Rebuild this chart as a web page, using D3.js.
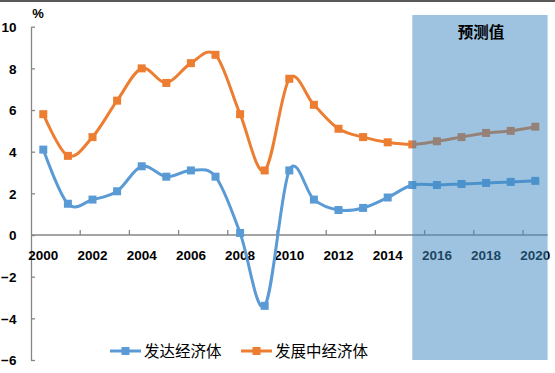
<!DOCTYPE html>
<meta charset="utf-8">
<style>
body { margin: 0; background: #fff; }
svg { display: block; }
.axis text { font-family: "Liberation Sans", Arial, sans-serif; font-weight: bold; font-size: 13.5px; fill: #000; }
.axis path, .axis line { stroke: #868686; stroke-width: 1.3; }
.legend text { font-family: "Noto Sans CJK SC", sans-serif; font-size: 15.5px; fill: #000; }
</style>
<body>
<svg width="555" height="373"></svg>
<script src="https://d3js.org/d3.v7.min.js"></script>
<script>
// values
var years = d3.range(2000, 2021);
var developed  = [4.1, 1.5, 1.7, 2.1, 3.3, 2.8, 3.1, 2.8, 0.1, -3.4, 3.1, 1.7, 1.2, 1.3, 1.8, 2.4, 2.4, 2.45, 2.5, 2.55, 2.6];
var developing = [5.8, 3.8, 4.7, 6.45, 8.0, 7.3, 8.25, 8.65, 5.8, 3.1, 7.5, 6.25, 5.1, 4.7, 4.45, 4.35, 4.5, 4.7, 4.9, 5.0, 5.2];
var yTicks = [-6, -4, -2, 0, 2, 4, 6, 8, 10];
var xLabels = years.filter(function(d) { return d % 2 === 0; });
var forecastStart = 2015;

var series = [
  {name: "发达经济体", values: developed, color: "#5B9BD5"},
  {name: "发展中经济体", values: developing, color: "#ED7D31"}
];

var svg = d3.select("svg");

// frame line at the top
svg.append("rect").attr("x", 0).attr("y", 0).attr("width", 555).attr("height", 2).attr("fill", "#595959");

var x = d3.scaleBand().domain(years).range([31, 547.6]).padding(0);
var y = d3.scaleLinear().domain([-6, 10]).range([360, 26.7]);
var cx = function(d) { return x(d) + x.bandwidth() / 2; };

// y axis
svg.append("g")
  .attr("class", "axis")
  .attr("transform", "translate(31,0)")
  .call(d3.axisLeft(y).tickValues(yTicks).tickSizeInner(-4).tickSizeOuter(0).tickPadding(14.5))
  .call(function(g) { g.selectAll("text").attr("dy", "0.36em"); });

// x axis at zero
var xg = svg.append("g")
  .attr("class", "axis")
  .attr("transform", "translate(0," + y(0) + ")");
xg.append("line").attr("x1", x.range()[0]).attr("x2", x.range()[1]).attr("y1", 0).attr("y2", 0);
xg.selectAll(".tk")
  .data(xLabels.filter(function(d) { return d > 2000; }))
  .enter().append("line")
  .attr("class", "tk")
  .attr("x1", function(d) { return x(d); })
  .attr("x2", function(d) { return x(d); })
  .attr("y1", 0).attr("y2", -5);
xg.selectAll(".lb")
  .data(xLabels)
  .enter().append("text")
  .attr("class", "lb")
  .attr("x", cx)
  .attr("y", 24.5)
  .attr("text-anchor", "middle")
  .text(function(d) { return d; });

svg.append("text")
  .attr("class", "axis")
  .attr("x", 38).attr("y", 18)
  .attr("text-anchor", "middle")
  .style("font-family", "Liberation Sans, Arial, sans-serif")
  .style("font-weight", "bold").style("font-size", "13px")
  .text("%");

// lines
var line = d3.line()
  .x(function(d) { return cx(d.year); })
  .y(function(d) { return y(d.v); })
  .curve(d3.curveCardinal.tension(0));

series.forEach(function(s) {
  var pts = years.map(function(yr, i) { return {year: yr, v: s.values[i]}; });
  svg.append("path")
    .datum(pts)
    .attr("d", line)
    .attr("fill", "none")
    .attr("stroke", s.color)
    .attr("stroke-width", 3);
  svg.selectAll(null)
    .data(pts)
    .enter().append("rect")
    .attr("x", function(d) { return cx(d.year) - 4; })
    .attr("y", function(d) { return y(d.v) - 4; })
    .attr("width", 8).attr("height", 8)
    .attr("fill", s.color);
});

// forecast shading laid over the plot
svg.append("rect")
  .attr("x", cx(forecastStart))
  .attr("y", 15)
  .attr("width", x.range()[1] - cx(forecastStart))
  .attr("height", y(-6) - 15)
  .attr("fill", "#3b87c1")
  .attr("opacity", 0.5);

svg.append("text")
  .attr("x", 481).attr("y", 38)
  .attr("text-anchor", "middle")
  .style("font-family", "Noto Sans CJK SC, sans-serif")
  .style("font-weight", "bold").style("font-size", "15.5px")
  .text("预测值");

// legend
var legendX = [110, 241];
var lg = svg.append("g").attr("class", "legend");
series.forEach(function(s, i) {
  var g = lg.append("g").attr("transform", "translate(" + legendX[i] + ",351)");
  g.append("line").attr("x1", 0).attr("x2", 31).attr("y1", 0).attr("y2", 0)
    .attr("stroke", s.color).attr("stroke-width", 3);
  g.append("rect").attr("x", 11.5).attr("y", -4).attr("width", 8).attr("height", 8).attr("fill", s.color);
  g.append("text").attr("x", 34).attr("y", 0).attr("dy", "0.36em").text(s.name);
});
</script>
</body>
